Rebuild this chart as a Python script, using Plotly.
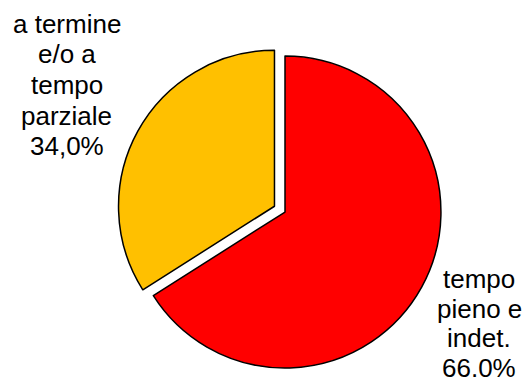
import plotly.graph_objects as go

labels = ["tempo pieno e indet.", "a termine e/o a tempo parziale"]
values = [66.0, 34.0]
colors = ["#FF0000", "#FFC000"]
pulls = [0, 0.077]
label_lines = [["tempo", "pieno e", "indet.", "66.0%"],
               ["a termine", "e/o a", "tempo", "parziale", "34,0%"]]

W, H = 527, 380

fig = go.Figure()
fig.add_trace(go.Pie(
    labels=labels, values=values, sort=False, direction="clockwise", rotation=0,
    marker=dict(colors=colors, line=dict(color="black", width=1.5)),
    pull=pulls, textinfo="none", hoverinfo="label+percent", showlegend=False,
    domain=dict(x=[0.222, 0.8596], y=[0.0, 0.884]),
))

font = dict(family="Arial, Liberation Sans, sans-serif", size=26, color="black")
# label block placement (pixel centre x, first-line centre y, line step)
blocks = [(479, 279, 29.7), (66.7, 23.7, 30.6)]
for lines, (cx, y0, step) in zip(label_lines, blocks):
    for i, ln in enumerate(lines):
        fig.add_annotation(text=ln, x=cx / W, y=1 - (y0 + i * step) / H,
                           xref="paper", yref="paper", xanchor="center", yanchor="middle",
                           showarrow=False, font=font, align="center")

fig.update_layout(width=W, height=H, margin=dict(l=0, r=0, t=0, b=0),
                  paper_bgcolor="white", plot_bgcolor="white")
fig.write_html("out.html")
